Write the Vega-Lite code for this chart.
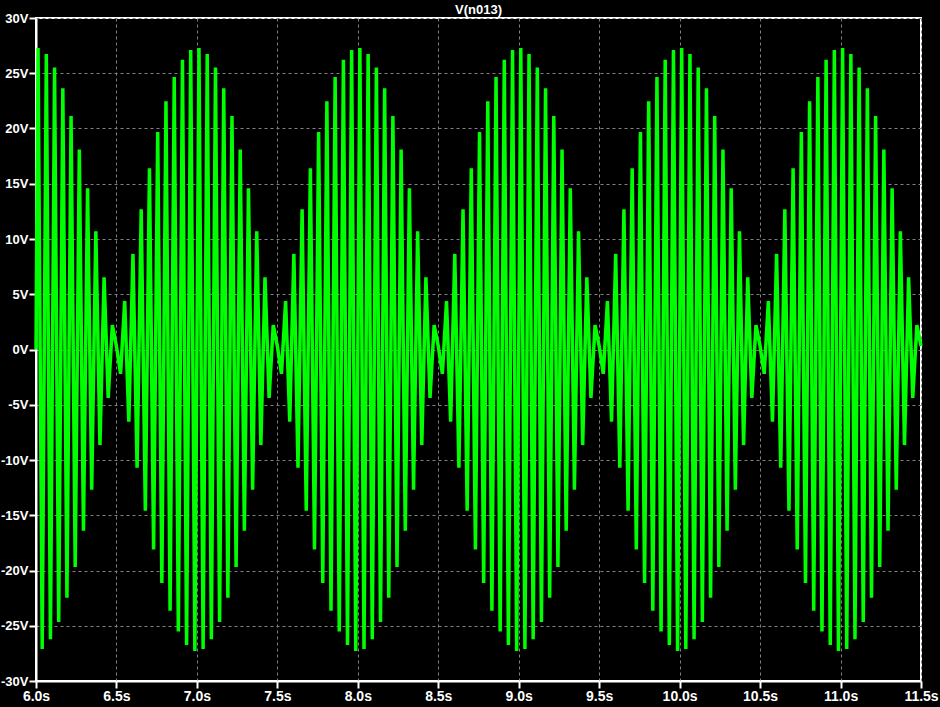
{
 "$schema": "https://vega.github.io/schema/vega-lite/v6.json",
 "width": 885,
 "height": 663,
 "autosize": {"type": "none"},
 "padding": {"left": 36, "top": 18, "right": 19, "bottom": 26},
 "background": "black",
 "title": {"text": "V(n013)", "color": "white", "fontSize": 13, "fontWeight": "bold", "font": "Liberation Sans", "anchor": "middle", "offset": 4, "dy": 9},
 "data": {"values": [
  {"t":6,"v":0},
  {"t":6.0128,"v":27.28},{"t":6.0385,"v":-27.1},{"t":6.0641,"v":26.75},{"t":6.0897,"v":-26.22},{"t":6.1154,"v":25.53},{"t":6.141,"v":-24.66},{"t":6.1667,"v":23.64},{"t":6.1923,"v":-22.47},{"t":6.2179,"v":21.14},{"t":6.2436,"v":-19.69},{"t":6.2692,"v":18.1},{"t":6.2949,"v":-16.4},{"t":6.3205,"v":14.6},{"t":6.3462,"v":-12.69},{"t":6.3718,"v":10.7},{"t":6.3974,"v":-8.65},{"t":6.4231,"v":6.53},{"t":6.4487,"v":-4.38},{"t":6.4744,"v":2.2},{"t":6.5,"v":0.3},{"t":6.5256,"v":-2.2},{"t":6.5513,"v":4.38},{"t":6.5769,"v":-6.53},{"t":6.6026,"v":8.65},{"t":6.6282,"v":-10.7},{"t":6.6538,"v":12.69},{"t":6.6795,"v":-14.6},{"t":6.7051,"v":16.4},{"t":6.7308,"v":-18.1},{"t":6.7564,"v":19.69},{"t":6.7821,"v":-21.14},{"t":6.8077,"v":22.47},{"t":6.8333,"v":-23.64},{"t":6.859,"v":24.66},{"t":6.8846,"v":-25.53},{"t":6.9103,"v":26.22},{"t":6.9359,"v":-26.75},{"t":6.9615,"v":27.1},{"t":6.9872,"v":-27.28},
  {"t":7.0128,"v":27.28},{"t":7.0385,"v":-27.1},{"t":7.0641,"v":26.75},{"t":7.0897,"v":-26.22},{"t":7.1154,"v":25.53},{"t":7.141,"v":-24.66},{"t":7.1667,"v":23.64},{"t":7.1923,"v":-22.47},{"t":7.2179,"v":21.14},{"t":7.2436,"v":-19.69},{"t":7.2692,"v":18.1},{"t":7.2949,"v":-16.4},{"t":7.3205,"v":14.6},{"t":7.3462,"v":-12.69},{"t":7.3718,"v":10.7},{"t":7.3974,"v":-8.65},{"t":7.4231,"v":6.53},{"t":7.4487,"v":-4.38},{"t":7.4744,"v":2.2},{"t":7.5,"v":0.3},{"t":7.5256,"v":-2.2},{"t":7.5513,"v":4.38},{"t":7.5769,"v":-6.53},{"t":7.6026,"v":8.65},{"t":7.6282,"v":-10.7},{"t":7.6538,"v":12.69},{"t":7.6795,"v":-14.6},{"t":7.7051,"v":16.4},{"t":7.7308,"v":-18.1},{"t":7.7564,"v":19.69},{"t":7.7821,"v":-21.14},{"t":7.8077,"v":22.47},{"t":7.8333,"v":-23.64},{"t":7.859,"v":24.66},{"t":7.8846,"v":-25.53},{"t":7.9103,"v":26.22},{"t":7.9359,"v":-26.75},{"t":7.9615,"v":27.1},{"t":7.9872,"v":-27.28},
  {"t":8.0128,"v":27.28},{"t":8.0385,"v":-27.1},{"t":8.0641,"v":26.75},{"t":8.0897,"v":-26.22},{"t":8.1154,"v":25.53},{"t":8.141,"v":-24.66},{"t":8.1667,"v":23.64},{"t":8.1923,"v":-22.47},{"t":8.2179,"v":21.14},{"t":8.2436,"v":-19.69},{"t":8.2692,"v":18.1},{"t":8.2949,"v":-16.4},{"t":8.3205,"v":14.6},{"t":8.3462,"v":-12.69},{"t":8.3718,"v":10.7},{"t":8.3974,"v":-8.65},{"t":8.4231,"v":6.53},{"t":8.4487,"v":-4.38},{"t":8.4744,"v":2.2},{"t":8.5,"v":0.3},{"t":8.5256,"v":-2.2},{"t":8.5513,"v":4.38},{"t":8.5769,"v":-6.53},{"t":8.6026,"v":8.65},{"t":8.6282,"v":-10.7},{"t":8.6538,"v":12.69},{"t":8.6795,"v":-14.6},{"t":8.7051,"v":16.4},{"t":8.7308,"v":-18.1},{"t":8.7564,"v":19.69},{"t":8.7821,"v":-21.14},{"t":8.8077,"v":22.47},{"t":8.8333,"v":-23.64},{"t":8.859,"v":24.66},{"t":8.8846,"v":-25.53},{"t":8.9103,"v":26.22},{"t":8.9359,"v":-26.75},{"t":8.9615,"v":27.1},{"t":8.9872,"v":-27.28},
  {"t":9.0128,"v":27.28},{"t":9.0385,"v":-27.1},{"t":9.0641,"v":26.75},{"t":9.0897,"v":-26.22},{"t":9.1154,"v":25.53},{"t":9.141,"v":-24.66},{"t":9.1667,"v":23.64},{"t":9.1923,"v":-22.47},{"t":9.2179,"v":21.14},{"t":9.2436,"v":-19.69},{"t":9.2692,"v":18.1},{"t":9.2949,"v":-16.4},{"t":9.3205,"v":14.6},{"t":9.3462,"v":-12.69},{"t":9.3718,"v":10.7},{"t":9.3974,"v":-8.65},{"t":9.4231,"v":6.53},{"t":9.4487,"v":-4.38},{"t":9.4744,"v":2.2},{"t":9.5,"v":0.3},{"t":9.5256,"v":-2.2},{"t":9.5513,"v":4.38},{"t":9.5769,"v":-6.53},{"t":9.6026,"v":8.65},{"t":9.6282,"v":-10.7},{"t":9.6538,"v":12.69},{"t":9.6795,"v":-14.6},{"t":9.7051,"v":16.4},{"t":9.7308,"v":-18.1},{"t":9.7564,"v":19.69},{"t":9.7821,"v":-21.14},{"t":9.8077,"v":22.47},{"t":9.8333,"v":-23.64},{"t":9.859,"v":24.66},{"t":9.8846,"v":-25.53},{"t":9.9103,"v":26.22},{"t":9.9359,"v":-26.75},{"t":9.9615,"v":27.1},{"t":9.9872,"v":-27.28},
  {"t":10.0128,"v":27.28},{"t":10.0385,"v":-27.1},{"t":10.0641,"v":26.75},{"t":10.0897,"v":-26.22},{"t":10.1154,"v":25.53},{"t":10.141,"v":-24.66},{"t":10.1667,"v":23.64},{"t":10.1923,"v":-22.47},{"t":10.2179,"v":21.14},{"t":10.2436,"v":-19.69},{"t":10.2692,"v":18.1},{"t":10.2949,"v":-16.4},{"t":10.3205,"v":14.6},{"t":10.3462,"v":-12.69},{"t":10.3718,"v":10.7},{"t":10.3974,"v":-8.65},{"t":10.4231,"v":6.53},{"t":10.4487,"v":-4.38},{"t":10.4744,"v":2.2},{"t":10.5,"v":0.3},{"t":10.5256,"v":-2.2},{"t":10.5513,"v":4.38},{"t":10.5769,"v":-6.53},{"t":10.6026,"v":8.65},{"t":10.6282,"v":-10.7},{"t":10.6538,"v":12.69},{"t":10.6795,"v":-14.6},{"t":10.7051,"v":16.4},{"t":10.7308,"v":-18.1},{"t":10.7564,"v":19.69},{"t":10.7821,"v":-21.14},{"t":10.8077,"v":22.47},{"t":10.8333,"v":-23.64},{"t":10.859,"v":24.66},{"t":10.8846,"v":-25.53},{"t":10.9103,"v":26.22},{"t":10.9359,"v":-26.75},{"t":10.9615,"v":27.1},{"t":10.9872,"v":-27.28},
  {"t":11.0128,"v":27.28},{"t":11.0385,"v":-27.1},{"t":11.0641,"v":26.75},{"t":11.0897,"v":-26.22},{"t":11.1154,"v":25.53},{"t":11.141,"v":-24.66},{"t":11.1667,"v":23.64},{"t":11.1923,"v":-22.47},{"t":11.2179,"v":21.14},{"t":11.2436,"v":-19.69},{"t":11.2692,"v":18.1},{"t":11.2949,"v":-16.4},{"t":11.3205,"v":14.6},{"t":11.3462,"v":-12.69},{"t":11.3718,"v":10.7},{"t":11.3974,"v":-8.65},{"t":11.4231,"v":6.53},{"t":11.4487,"v":-4.38},{"t":11.4744,"v":2.2},{"t":11.5,"v":0.3}
 ]},
 "mark": {"type": "line", "color": "#00ff00", "strokeWidth": 3.5, "strokeJoin": "bevel"},
 "encoding": {
  "x": {"field": "t", "type": "quantitative", "scale": {"domain": [6, 11.5], "nice": false, "zero": false},
        "axis": {"values": [6, 6.5, 7, 7.5, 8, 8.5, 9, 9.5, 10, 10.5, 11, 11.5], "labelExpr": "format(datum.value, '.1f') + 's'", "title": null, "labelFontSize": 14, "labelFlush": false}},
  "y": {"field": "v", "type": "quantitative", "scale": {"domain": [-30, 30], "nice": false, "zero": false},
        "axis": {"values": [-30, -25, -20, -15, -10, -5, 0, 5, 10, 15, 20, 25, 30], "labelExpr": "datum.value + 'V'", "title": null, "labelFontSize": 13}}
 },
 "config": {
  "view": {"stroke": "white", "strokeWidth": 2},
  "axis": {"domainColor": "white", "domainWidth": 2, "tickColor": "white", "tickWidth": 2, "tickSize": 7, "labelColor": "white", "labelFont": "Liberation Sans", "labelFontWeight": "bold", "labelPadding": 1, "gridColor": "#808080", "gridDash": [3, 3], "gridWidth": 1, "labelOverlap": false}
 }
}
